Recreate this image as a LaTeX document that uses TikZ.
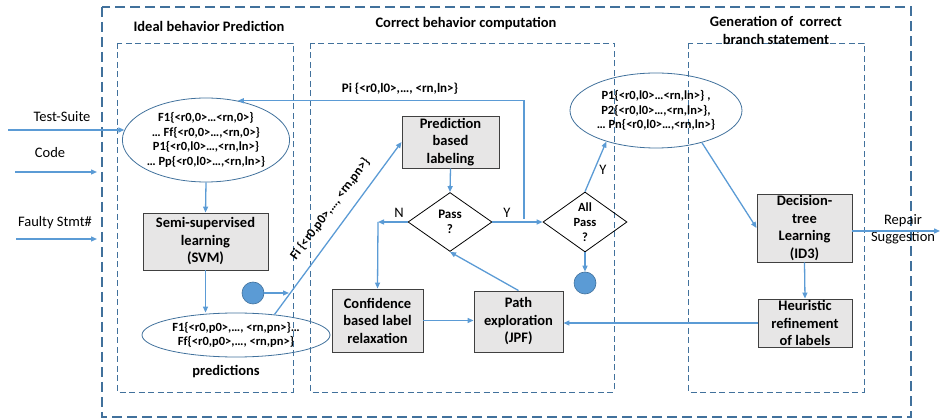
\documentclass[tikz,border=0pt]{standalone}
\usepackage{fontspec}
\setmainfont{Carlito}
\usetikzlibrary{arrows.meta,shapes.geometric}
\definecolor{lineblue}{HTML}{5B9BD5}
\definecolor{frameblue}{HTML}{41719C}
\definecolor{boxgray}{HTML}{E7E6E6}
\definecolor{boxedge}{HTML}{404040}
\newcommand\fTitle{\fontsize{14.5}{18}\selectfont\bfseries}
\newcommand\fBox{\fontsize{14.5}{17.5}\selectfont\bfseries}
\newcommand\fEll{\fontsize{12.5}{14.7}\selectfont\bfseries}
\newcommand\fLbl{\fontsize{14.5}{17}\selectfont}
\newcommand\fDia{\fontsize{13}{15}\selectfont\bfseries}
\newcommand\fSmall{\fontsize{13}{15}\selectfont\bfseries}
\begin{document}
\begin{tikzpicture}[x=1pt,y=-1pt,
  outerframe/.style={draw=frameblue, line width=1.4pt, dash pattern=on 10pt off 5pt},
  innerframe/.style={draw=frameblue, line width=0.9pt, dash pattern=on 6pt off 3.5pt},
  conn/.style={draw=lineblue, line width=1.3pt, -{Triangle[length=6pt,width=5pt]}},
  plainconn/.style={draw=lineblue, line width=1.3pt},
  boxtext/.style={align=center, font=\fBox, inner sep=0pt},
  procbox/.style={rectangle, draw=boxedge, fill=boxgray, line width=0.9pt, inner sep=0pt},
  datael/.style={ellipse, draw=frameblue, line width=0.8pt, inner sep=0pt, align=center, font=\fEll},
  diatext/.style={align=center, font=\fDia, inner sep=0pt},
  decision/.style={diamond, draw=black, line width=0.8pt, inner sep=0pt},
  dot/.style={circle, fill=lineblue, draw=frameblue, line width=0.6pt, minimum size=22pt, inner sep=0pt},
  title/.style={font=\fTitle, align=center, inner sep=0pt},
  lbl/.style={font=\fLbl, align=center, inner sep=0pt},
  slbl/.style={font=\fSmall, inner sep=0pt}
]
\useasboundingbox (0,0) rectangle (940,419);

% frames
\draw[outerframe] (102,7) rectangle (911,417);
\draw[innerframe] (117,43) rectangle (293,392);
\draw[innerframe] (310,43) rectangle (614,392);
\draw[innerframe] (688,43) rectangle (864,392);

% stage titles
\node[title] (t1) at (209,26) {Ideal behavior Prediction};
\node[title] (t2) at (466,24) {Correct behavior computation};
\node[title] (t3) at (776,30) {Generation of\ \ correct\\branch statement};

% inputs
\node[lbl] (ts) at (62,117) {Test-Suite};
\node[lbl] (code) at (50,153) {Code};
\node[lbl] (fs) at (55,223) {Faulty Stmt\#};
\coordinate (tsstart) at (8,131);
\coordinate (codein) at (15,172);
\coordinate (codeout) at (97,172);
\coordinate (fsin) at (16,239);
\coordinate (fsout) at (97,239);

% ideal behavior prediction
\node[datael, minimum width=167pt, minimum height=84pt] (e1) at (206,140)
  {F1\{<r0,0>…<rn,0>\}\\… Ff\{<r0,0>…,<rn,0>\}\\P1\{<r0,l0>…,<rn,ln>\}\\… Pp\{<r0,l0>…,<rn,ln>\}};
\node[procbox, minimum width=125pt, minimum height=57pt,
  label={[boxtext]center:{Semi-supervised\\learning\\(SVM)}}] (svm) at (205.5,241.5) {};
\node[datael, minimum width=188pt, minimum height=44pt] (e2) at (236,335)
  {F1\{<r0,p0>,…, <rn,pn>\}…\\Ff\{<r0,p0>,…, <rn,pn>\}};
\node[lbl, font=\fLbl\bfseries] (predlbl) at (226,372) {predictions};
\node[dot] (dot1) at (253,293) {};
\coordinate (dot1end) at (289,293);

% correct behavior computation
\node[procbox, minimum width=97pt, minimum height=52pt,
  label={[boxtext]center:{Prediction\\based\\labeling}}] (pred) at (450.5,142) {};
\node[decision, minimum width=84pt, minimum height=59pt,
  label={[diatext]center:{Pass\\?}}] (pass) at (450,222) {};
\node[decision, minimum width=84pt, minimum height=60pt,
  label={[diatext, font=\fontsize{12.5}{15}\selectfont\bfseries]center:{All\\Pass\\?}}] (allpass) at (585,222) {};
\node[procbox, minimum width=91pt, minimum height=63pt,
  label={[boxtext]center:{Confidence\\based label\\relaxation}}] (conf) at (377.5,320.5) {};
\node[procbox, minimum width=89pt, minimum height=61pt,
  label={[boxtext]center:{Path\\exploration\\(JPF)}}] (path) at (518.5,321.5) {};
\node[dot] (dot2) at (585,283) {};
\coordinate (ncorner) at (378,222);
\coordinate (ybranch) at (524,219);

% correct branch generation
\node[datael, minimum width=172pt, minimum height=75pt] (e3) at (656,110.5)
  {P1\{<r0,l0>…<rn,ln>\} ,\\P2\{<r0,l0>…,<rn,ln>\},\\… Pn\{<r0,l0>…,<rn,ln>\}};
\node[procbox, minimum width=95pt, minimum height=68pt,
  label={[boxtext]center:{Decision-\\tree\\Learning\\(ID3)}}] (dec) at (804.5,228) {};
\node[procbox, minimum width=94pt, minimum height=48pt,
  label={[boxtext]center:{Heuristic\\refinement\\of labels}}] (heur) at (805,323) {};
\node[lbl] (repair) at (903,229.5) {Repair\\Suggestion};
\coordinate (outend) at (940,231);

% connector labels
\node[slbl] (pilbl) at (400,89) {Pi \{<r0,l0>,…, <rn,ln>\}};
\node[slbl, rotate=53] (filbl) at (330,209) {Fi \{<r0,p0>,…, <rn,pn>\}};
\node[lbl] (nlbl) at (399,213) {N};
\node[lbl] (ylbl) at (507,213) {Y};
\node[lbl] (ylbl2) at (603,170) {Y};

% connectors
\draw[conn] (e1.173 -| tsstart) -- (e1.173);
\draw[conn] (codein) -- (codeout);
\draw[conn] (fsin) -- (fsout);
\draw[conn] (e1.south) -- (svm.north);
\draw[conn] (svm.south) -- (svm.south |- e2.north);
\draw[conn] (dot1.east) -- (dot1end);
\draw[conn] (e2.28) -- (pred.west);
\draw[conn] (pred.south) -- (pass.north);
\draw[conn] (pass.west) -- (ncorner);
\draw[conn] (ncorner) -- (conf.north);
\draw[conn] (pass.east) -- (allpass.west);
\draw[conn] (ybranch) |- (e1.51);
\draw[conn] (allpass.north) -- (e3.212);
\draw[conn] (allpass.south) -- (dot2.north);
\draw[conn] (e3.-35) -- (dec.west);
\draw[conn] (dec.east |- outend) -- (outend);
\draw[conn] (dec.south) -- (heur.north);
\draw[conn] (heur.west) -- (heur.west -| path.east);
\draw[conn] (conf.east) -- (conf.east -| path.west);
\draw[conn] (path.north) -- (pass.south);
\end{tikzpicture}
\end{document}
